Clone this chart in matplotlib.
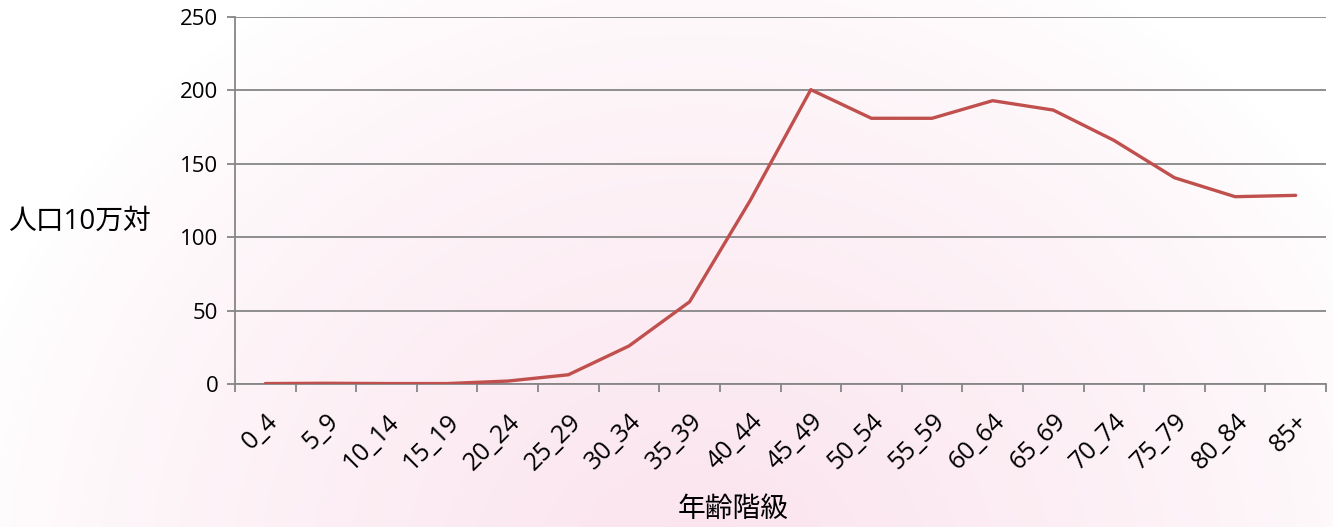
import matplotlib
matplotlib.use('Agg')
import matplotlib.pyplot as plt
import numpy as np

# data
ages = ['0_4', '5_9', '10_14', '15_19', '20_24', '25_29', '30_34', '35_39', '40_44',
        '45_49', '50_54', '55_59', '60_64', '65_69', '70_74', '75_79', '80_84', '85+']
rate = [0.3, 0.5, 0.3, 0.3, 2.0, 6.3, 25.9, 56.0, 125.0,
        200.5, 181.0, 181.0, 193.0, 186.6, 166.0, 140.5, 127.6, 128.5]
yticks = [0, 50, 100, 150, 200, 250]

plt.rcParams['font.family'] = ['Open Sans', 'Noto Sans CJK JP', 'DejaVu Sans']

fig = plt.figure(figsize=(13.33, 5.27), dpi=100)

# radial pink background, pinkest near bottom centre, white at the sides
bg = fig.add_axes([0, 0, 1, 1], zorder=0)
yy, xx = np.mgrid[0:527:264j, 0:1333:667j]
d = np.hypot(xx - 700, (yy - 580) * 1.1)
t = np.clip(1 - d / 760, 0, 1) ** 0.8
c0 = np.array([1.0, 1.0, 1.0])
c1 = np.array([0.984, 0.89, 0.93])
img = c0 + (c1 - c0) * t[..., None]
bg.imshow(img, extent=[0, 1, 0, 1], aspect='auto', origin='upper')
bg.axis('off')

ax = fig.add_axes([235 / 1333, 1 - 384 / 527, (1326 - 235) / 1333, 367 / 527], zorder=1)
ax.patch.set_alpha(0)

x = np.arange(len(ages))
ax.plot(x, rate, color='#C0504D', lw=2.4, solid_capstyle='round', solid_joinstyle='round', zorder=3)

ax.set_xlim(-0.5, len(ages) - 0.5)
ax.set_ylim(0, 250)
ax.set_yticks(yticks)
ax.grid(axis='y', color='#868686', lw=1.3)
ax.set_axisbelow(True)

ax.set_xticks(np.arange(len(ages) + 1) - 0.5)
ax.set_xticklabels([])
ax.set_xticks(x, minor=True)
ax.set_xticklabels(ages, minor=True, rotation=45, ha='right', rotation_mode='anchor', fontsize=18)
ax.tick_params(axis='x', which='minor', length=0, pad=18)
ax.tick_params(axis='x', which='major', length=6, width=1.3, color='#868686')
ax.tick_params(axis='y', length=6, width=1.3, color='#868686', labelsize=16, pad=6)

for s in ['top', 'right']:
    ax.spines[s].set_visible(False)
for s in ['left', 'bottom']:
    ax.spines[s].set_color('#868686')
    ax.spines[s].set_linewidth(1.3)

fig.text(8 / 1333, 1 - 222 / 527, '人口10万対', fontsize=20, va='center', ha='left')
fig.text(733 / 1333, 1 - 510 / 527, '年齢階級', fontsize=20, va='center', ha='center')

fig.savefig('out.png', dpi=100)
